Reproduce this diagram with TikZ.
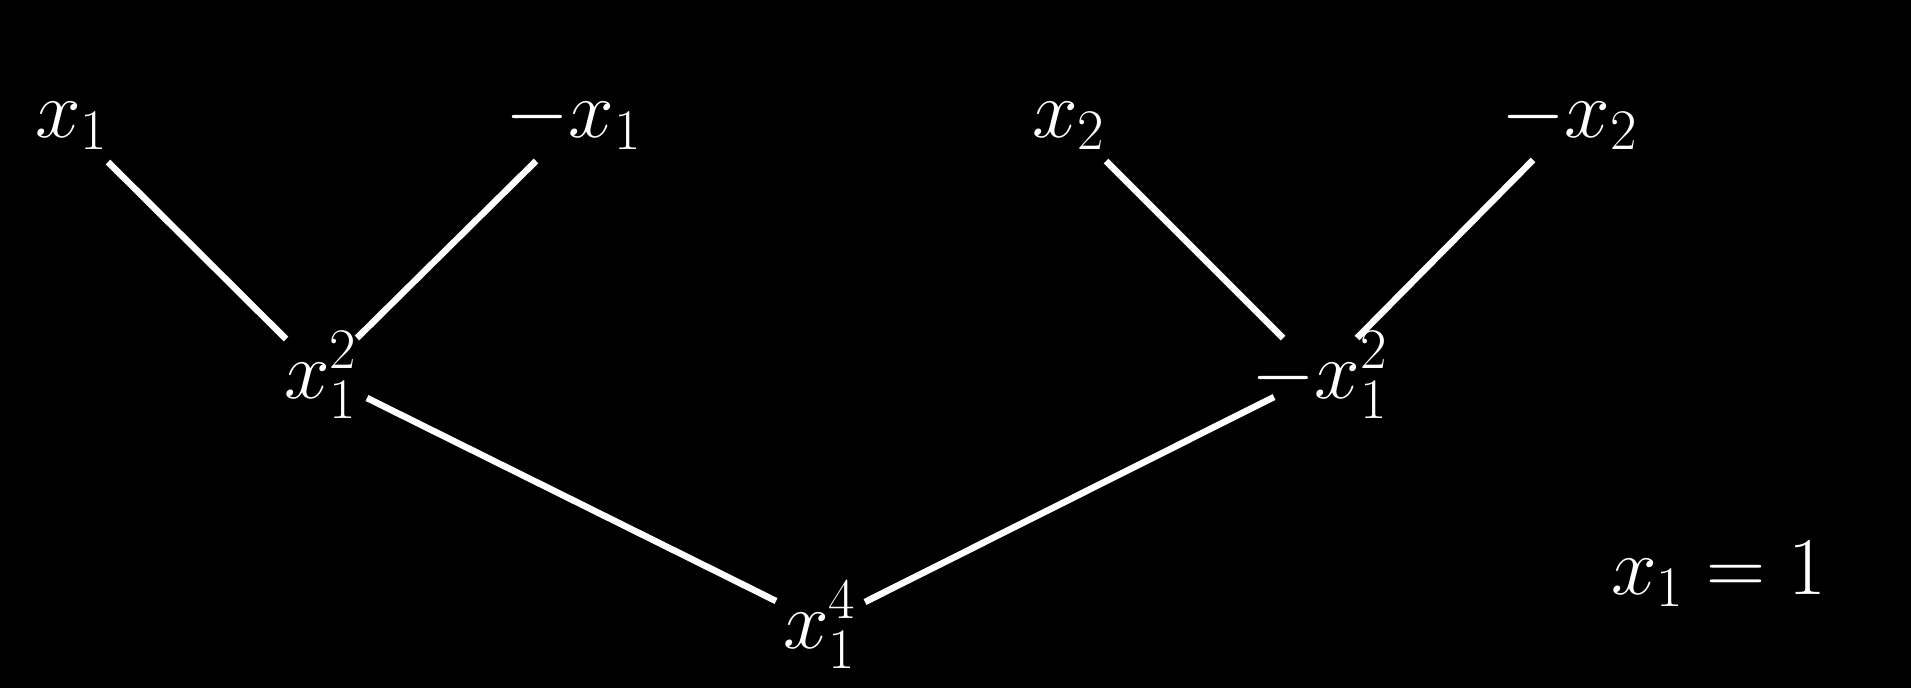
\documentclass[tikz,border=0pt]{standalone}
\usepackage{fix-cm}
\usetikzlibrary{calc}
\begin{document}
\begin{tikzpicture}[x=1pt,y=-1pt,
  lbl/.style={anchor=base west,inner sep=0pt,text=white,font=\fontsize{82}{98}\selectfont},
  edge/.style={draw=white,line width=6.5pt}]
\fill[black] (0,0) rectangle (1911,688);
\useasboundingbox (0,0) rectangle (1911,688);
\node[lbl] (x1) at (35,137) {$x_1$};
\node[lbl] (mx1) at (505,137) {$-x_1$};
\node[lbl] (x2) at (1032,137) {$x_2$};
\node[lbl] (mx2) at (1501,137) {$-x_2$};
\node[lbl] (x12) at (284,398) {$x_1^2$};
\node[lbl] (mx12) at (1251,398) {$-x_1^2$};
\node[lbl] (x14) at (783,648) {$x_1^4$};
\node[lbl] (eq) at (1611,594) {$x_1=1$};
\draw[edge] ($(x1.base west)+(73,25)$) -- ($(x12.base west)+(2,-59)$);
\draw[edge] ($(mx1.base west)+(31,24)$) -- ($(x12.base west)+(73,-60)$);
\draw[edge] ($(x12.base west)+(83,0)$) -- ($(x14.base west)+(-7,-47)$);
\draw[edge] ($(x14.base west)+(82,-46)$) -- ($(mx12.base west)+(23,-1)$);
\draw[edge] ($(x2.base west)+(74,24)$) -- ($(mx12.base west)+(32,-60)$);
\draw[edge] ($(mx2.base west)+(32,23)$) -- ($(mx12.base west)+(106,-60)$);
\end{tikzpicture}
\end{document}
